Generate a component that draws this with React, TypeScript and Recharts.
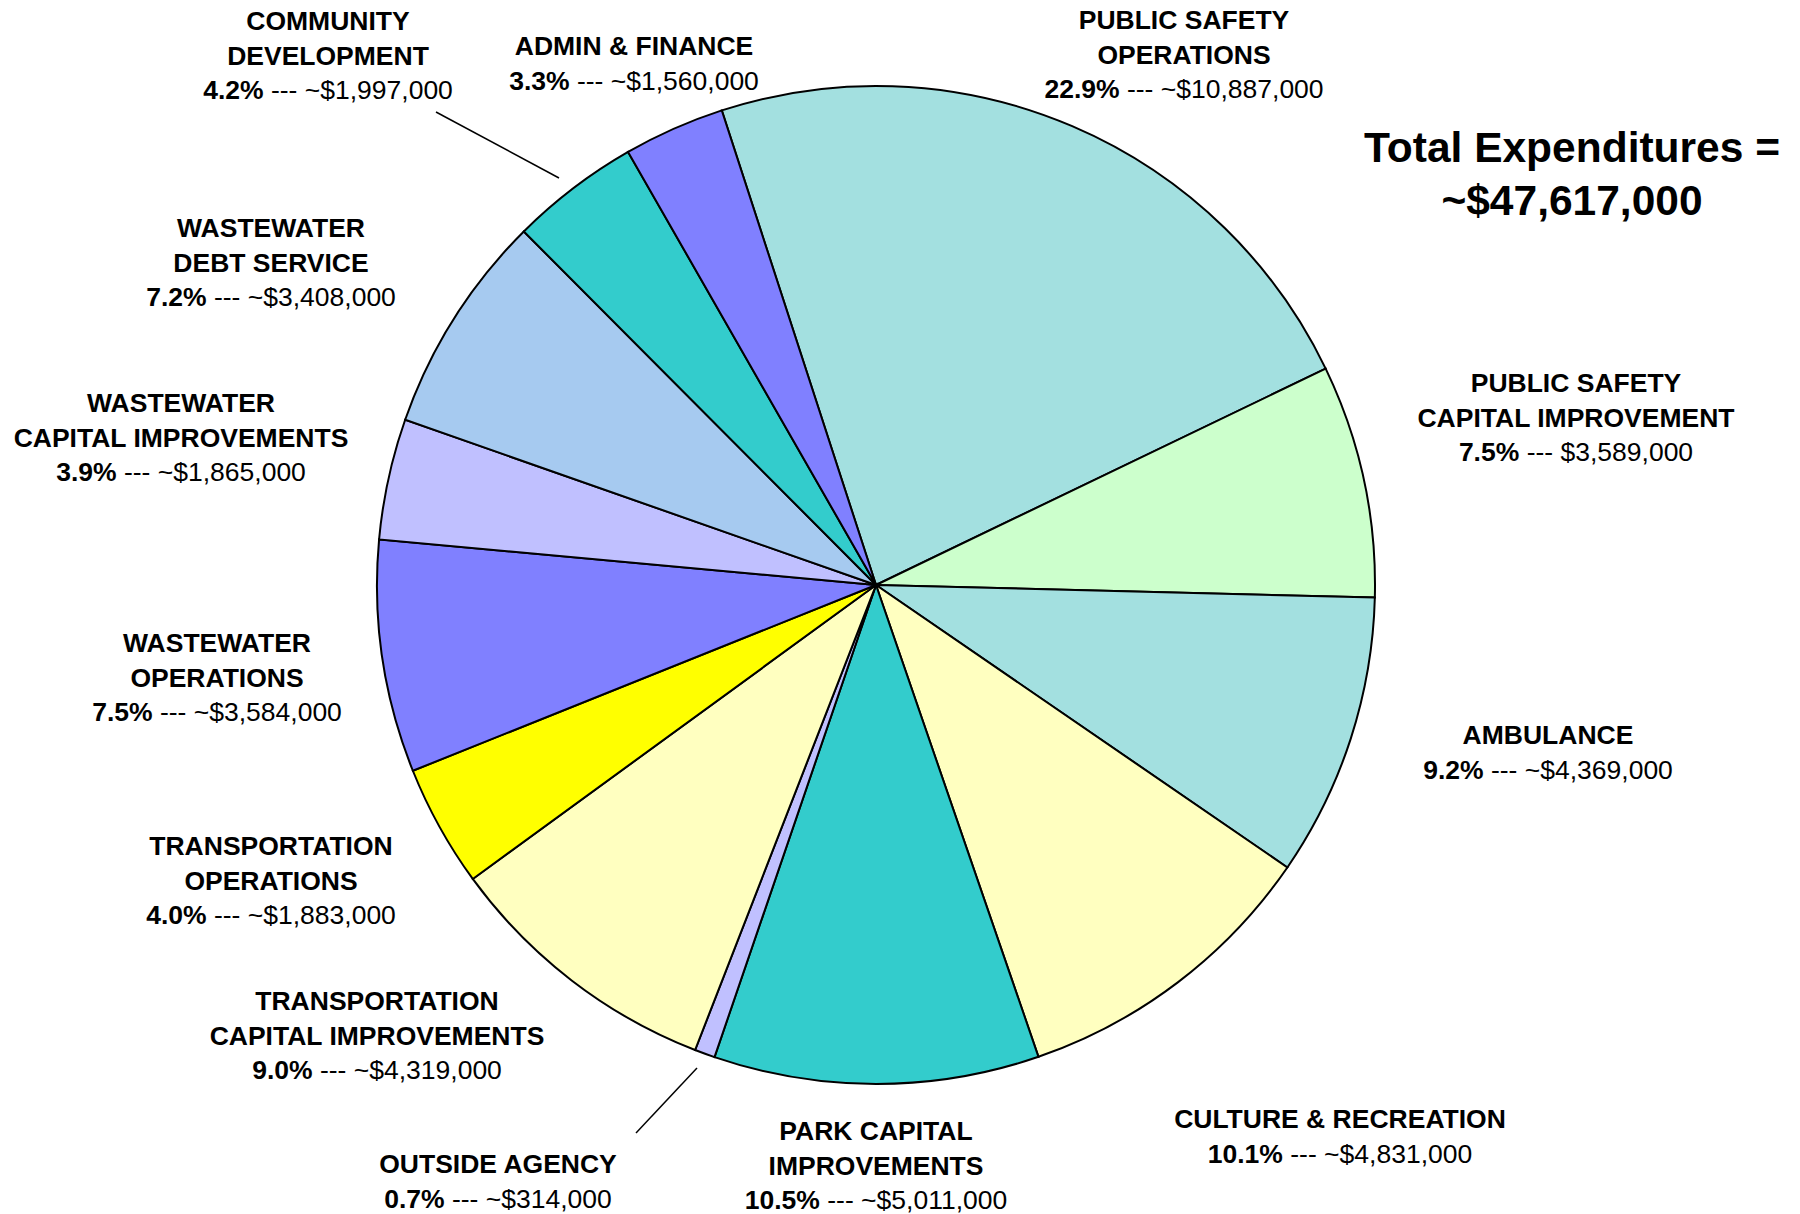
import { PieChart, Pie, Cell } from 'recharts';

// slices in clockwise order, starting at public safety operations
const names = [
  ['PUBLIC SAFETY', 'OPERATIONS'],
  ['PUBLIC SAFETY', 'CAPITAL IMPROVEMENT'],
  ['AMBULANCE'],
  ['CULTURE & RECREATION'],
  ['PARK CAPITAL', 'IMPROVEMENTS'],
  ['OUTSIDE AGENCY'],
  ['TRANSPORTATION', 'CAPITAL IMPROVEMENTS'],
  ['TRANSPORTATION', 'OPERATIONS'],
  ['WASTEWATER', 'OPERATIONS'],
  ['WASTEWATER', 'CAPITAL IMPROVEMENTS'],
  ['WASTEWATER', 'DEBT SERVICE'],
  ['COMMUNITY', 'DEVELOPMENT'],
  ['ADMIN & FINANCE'],
];
const percents = ['22.9%', '7.5%', '9.2%', '10.1%', '10.5%', '0.7%', '9.0%', '4.0%', '7.5%', '3.9%', '7.2%', '4.2%', '3.3%'];
const amounts = [10887000, 3589000, 4369000, 4831000, 5011000, 314000, 4319000, 1883000, 3584000, 1865000, 3408000, 1997000, 1560000];
const amountText = ['~$10,887,000', '$3,589,000', '~$4,369,000', '~$4,831,000', '~$5,011,000', '~$314,000', '~$4,319,000', '~$1,883,000', '~$3,584,000', '~$1,865,000', '~$3,408,000', '~$1,997,000', '~$1,560,000'];
const colors = ['#A3E0E0', '#CCFFCC', '#A3E0E0', '#FFFFC0', '#33CCCC', '#C0C0FF', '#FFFFC0', '#FFFF00', '#8080FF', '#C0C0FF', '#A6CAF0', '#33CCCC', '#8080FF'];

// label layout: text block centre x, first line centre y
const labelPos = [
  [1184, 20], [1576, 383], [1548, 735], [1340, 1119], [876, 1131], [498, 1164], [377, 1001],
  [271, 846], [217, 643], [181, 403], [271, 228], [328, 21], [634, 46],
];
// leader lines for the thin slices
const leaders: Record<number, number[]> = {
  5: [636, 1133, 697, 1068],
  11: [436, 112, 559, 178],
};

const data = names.map((n, i) => ({ name: n.join(' '), value: amounts[i] }));

const LINE = 34.5;
const FONT = 'Liberation Sans, Arial, sans-serif';

function renderLabel(props: any) {
  const i = props.index;
  const [x, y] = labelPos[i];
  const lines = names[i];
  const ld = leaders[i];
  return (
    <g key={'lbl' + i}>
      {ld && <line x1={ld[0]} y1={ld[1]} x2={ld[2]} y2={ld[3]} stroke="#000" strokeWidth={1.5} />}
      <text x={x} y={y} textAnchor="middle" dominantBaseline="central" fontFamily={FONT} fontSize={26.5} fill="#000">
        {lines.map((l, k) => (
          <tspan key={k} x={x} y={y + k * LINE} fontWeight="bold">{l}</tspan>
        ))}
        <tspan x={x} y={y + lines.length * LINE} fontWeight="bold">{percents[i]}</tspan>
        <tspan fontWeight="normal">{' --- ' + amountText[i]}</tspan>
      </text>
    </g>
  );
}

export default function App() {
  return (
    <div style={{ position: 'absolute', left: 0, top: 0, width: 1800, height: 1214, background: '#fff' }}>
      <PieChart width={1800} height={1214} margin={{ top: 0, right: 0, bottom: 0, left: 0 }}>
        <Pie
          data={data}
          dataKey="value"
          cx={876}
          cy={585}
          outerRadius={499}
          startAngle={108}
          endAngle={-252}
          stroke="#000"
          strokeWidth={2}
          label={renderLabel}
          labelLine={false}
          isAnimationActive={false}
        >
          {data.map((d, i) => (
            <Cell key={d.name} fill={colors[i]} />
          ))}
        </Pie>
      </PieChart>
      <div
        style={{
          position: 'absolute',
          left: 1322,
          top: 121,
          width: 500,
          textAlign: 'center',
          whiteSpace: 'nowrap',
          fontFamily: FONT,
          fontWeight: 'bold',
          fontSize: 42.5,
          lineHeight: '53px',
          color: '#000',
        }}
      >
        Total Expenditures =<br />~$47,617,000
      </div>
    </div>
  );
}
